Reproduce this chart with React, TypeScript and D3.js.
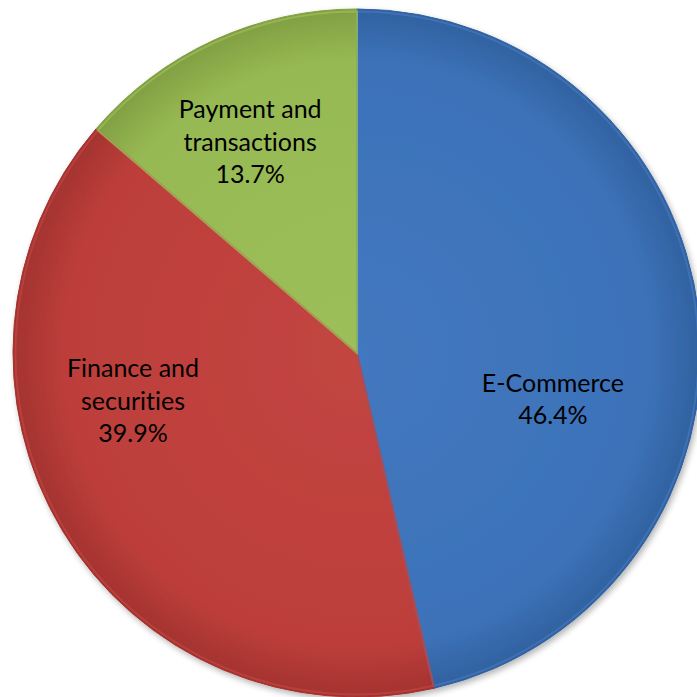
import React from "react";
import * as d3 from "d3";

const categories = ["E-Commerce", "Finance and securities", "Payment and transactions"];
const values = [46.4, 39.9, 13.7];
const labelLines = [["E-Commerce", "46.4%"], ["Finance and", "securities", "39.9%"], ["Payment and", "transactions", "13.7%"]];
const colors = ["#3c72b9", "#bd3e3b", "#97b953"];
const lightColors = ["#4378bf", "#c24541", "#9dbf5a"];
const darkColors = ["#31619f", "#a3332f", "#819f42"];
// label anchor: [radius fraction, angle offset in radians from slice mid]
const labelAnchor = [
  [0.585, 0.344],
  [0.666, 0.332],
  [0.688, -0.038],
];

export default function App() {
  const W = 697, H = 697;
  const cx = 357, cy = 353, r = 344;
  const pie = d3.pie<number>().sort(null).value((d) => d);
  const arcs = pie(values);
  const arc = d3.arc<d3.PieArcDatum<number>>().innerRadius(0).outerRadius(r);
  const arcHl = d3.arc<d3.PieArcDatum<number>>().innerRadius(0).outerRadius(r - 2.5);
  const fontSize = 25;
  const lineH = 32.5;
  return (
    <svg width={W} height={H} style={{ position: "absolute", left: 0, top: 0, background: "#fff" }}>
      <defs>
        {colors.map((c, i) => (
          <radialGradient key={i} id={`g${i}`} cx={0} cy={0} r={r} gradientUnits="userSpaceOnUse">
            <stop offset="0%" stopColor={lightColors[i]} />
            <stop offset="85%" stopColor={c} />
            <stop offset="100%" stopColor={darkColors[i]} />
          </radialGradient>
        ))}
        <filter id="sh" x="-10%" y="-10%" width="120%" height="120%">
          <feGaussianBlur in="SourceAlpha" stdDeviation="3" />
          <feOffset dx="2" dy="3" result="b" />
          <feComponentTransfer><feFuncA type="linear" slope="0.3" /></feComponentTransfer>
          <feMerge><feMergeNode /><feMergeNode in="SourceGraphic" /></feMerge>
        </filter>
      </defs>
      <g transform={`translate(${cx},${cy})`} filter="url(#sh)">
        {arcs.map((a, i) => (
          <path key={categories[i]} d={arc(a) || ""} fill={`url(#g${i})`} stroke={darkColors[i]} strokeWidth={1} strokeLinejoin="round" />
        ))}
      </g>
      <g transform={`translate(${cx},${cy})`}>
        {arcs.map((a, i) => (
          <path key={"hl" + i} d={arcHl(a) || ""} fill="none" stroke={lightColors[i]} strokeOpacity={0.7} strokeWidth={2} />
        ))}
      </g>
      <g transform={`translate(${cx},${cy})`} fontFamily="Lato, 'Noto Sans', sans-serif" fontSize={fontSize} fill="#000" textAnchor="middle" style={{ fontVariantLigatures: "none" }}>
        {arcs.map((a, i) => {
          const mid = (a.startAngle + a.endAngle) / 2 + labelAnchor[i][1];
          const rr = r * labelAnchor[i][0];
          const x = rr * Math.sin(mid);
          const y = -rr * Math.cos(mid);
          const lines = labelLines[i];
          const y0 = y - ((lines.length - 1) * lineH) / 2 + fontSize * 0.35;
          return (
            <text key={"t" + i} x={x} y={y0}>
              {lines.map((l, j) => (
                <tspan key={j} x={x} y={y0 + j * lineH}>{l}</tspan>
              ))}
            </text>
          );
        })}
      </g>
    </svg>
  );
}
